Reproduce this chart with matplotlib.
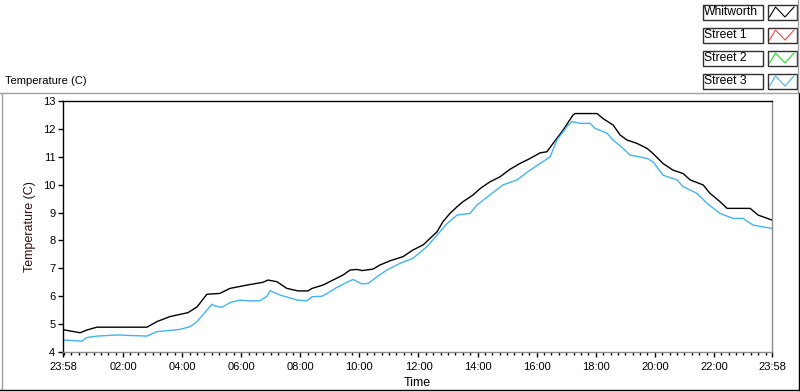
import matplotlib.pyplot as plt
from matplotlib.lines import Line2D
from matplotlib.patches import Rectangle
import numpy as np

plt.rcParams['font.family'] = ['Liberation Sans', 'DejaVu Sans']

# hours after 23:58 (start of record)
t_whit = [0.00, 0.58, 0.81, 1.15, 2.84, 3.18, 3.62, 4.23, 4.54, 4.87, 5.31, 5.65,
          6.23, 6.77, 6.94, 7.24, 7.58, 7.96, 8.29, 8.43, 8.80, 9.14, 9.48, 9.72,
          9.95, 10.12, 10.49, 10.73, 11.07, 11.51, 11.85, 12.19, 12.42, 12.66, 12.86,
          13.10, 13.34, 13.54, 13.88, 14.12, 14.45, 14.79, 15.13, 15.47, 15.81, 16.15,
          16.38, 16.59, 16.93, 17.26, 17.33, 18.08, 18.28, 18.62, 18.86, 19.09, 19.43,
          19.77, 19.97, 20.31, 20.65, 20.99, 21.23, 21.67, 21.90, 22.24, 22.48, 23.26,
          23.53, 24.00]
whitworth = [4.80, 4.69, 4.79, 4.89, 4.89, 5.09, 5.27, 5.41, 5.62, 6.07, 6.10, 6.28,
             6.40, 6.50, 6.58, 6.52, 6.28, 6.19, 6.19, 6.28, 6.40, 6.58, 6.76, 6.94,
             6.96, 6.92, 6.97, 7.12, 7.27, 7.42, 7.66, 7.84, 8.07, 8.31, 8.67,
             8.97, 9.21, 9.39, 9.63, 9.86, 10.10, 10.28, 10.55, 10.76, 10.94, 11.14,
             11.18, 11.48, 11.96, 12.49, 12.55, 12.55, 12.37, 12.14, 11.78, 11.60, 11.48,
             11.30, 11.12, 10.76, 10.52, 10.40, 10.17, 9.99, 9.69, 9.39, 9.15, 9.15,
             8.91, 8.73]

t_st3 = [0.00, 0.64, 0.81, 1.15, 1.83, 2.84, 3.18, 3.96, 4.30, 4.54, 4.87, 5.04,
         5.15, 5.38, 5.65, 5.99, 6.33, 6.67, 6.91, 7.01, 7.35, 7.75, 7.92, 8.26,
         8.43, 8.77, 8.94, 9.28, 9.65, 9.82, 10.12, 10.33, 10.63, 10.97, 11.41,
         11.85, 12.32, 12.66, 13.00, 13.34, 13.78, 14.01, 14.45, 14.89, 15.37, 15.81,
         16.15, 16.49, 16.72, 17.06, 17.23, 17.50, 17.84, 18.01, 18.42, 18.62, 18.96,
         19.20, 19.77, 19.97, 20.31, 20.79, 20.99, 21.46, 21.80, 22.24, 22.68, 23.02,
         23.36, 24.00]
street3 = [4.43, 4.39, 4.52, 4.57, 4.61, 4.57, 4.73, 4.81, 4.91, 5.09, 5.50, 5.71,
           5.65, 5.60, 5.77, 5.86, 5.83, 5.84, 6.00, 6.20, 6.04, 5.92, 5.86, 5.84,
           5.98, 6.00, 6.10, 6.32, 6.52, 6.60, 6.44, 6.46, 6.70, 6.94, 7.18,
           7.36, 7.78, 8.19, 8.61, 8.91, 8.97, 9.27, 9.63, 9.99, 10.17, 10.52,
           10.76, 11.00, 11.60, 12.08, 12.26, 12.20, 12.20, 12.02, 11.84, 11.60, 11.30,
           11.06, 10.94, 10.82, 10.34, 10.17, 9.93, 9.69, 9.33, 8.97, 8.79, 8.79,
           8.55, 8.43]

tick_hours = [0, 2 + 2/60, 4 + 2/60, 6 + 2/60, 8 + 2/60, 10 + 2/60, 12 + 2/60,
              14 + 2/60, 16 + 2/60, 18 + 2/60, 20 + 2/60, 22 + 2/60, 24]
tick_labels = ['23:58', '02:00', '04:00', '06:00', '08:00', '10:00', '12:00',
               '14:00', '16:00', '18:00', '20:00', '22:00', '23:58']

legend_names = ['Whitworth', 'Street 1', 'Street 2', 'Street 3']
legend_colors = ['#000000', '#ff4040', '#20e020', '#40b4f4']

W, H = 800, 392
fig = plt.figure(figsize=(W / 100, H / 100), dpi=100)

def fx(x):
    return x / W

def fy(y):
    return 1 - y / H

ax = fig.add_axes([fx(63), fy(352), (772 - 63) / W, (352 - 101) / H])
ax.plot(t_whit, whitworth, color=legend_colors[0], lw=1.0)
ax.plot(t_st3, street3, color=legend_colors[3], lw=1.0)

ax.set_xlim(0, 24)
ax.set_ylim(4, 13)
ax.set_yticks(range(4, 14))
ax.set_xticks(tick_hours)
ax.set_xticklabels(tick_labels)
ax.set_xticks(np.arange(2 / 60, 24, 0.25), minor=True)
ax.tick_params(axis='both', which='major', labelsize=8, direction='out', length=3.5, width=1, color='black', pad=2)
ax.tick_params(axis='x', which='major', pad=4)
ax.tick_params(axis='x', which='minor', direction='out', length=2, width=1, color='black')
ax.spines['left'].set_color('black')
ax.spines['top'].set_color('black')
ax.spines['right'].set_color('#8c8c8c')
ax.spines['bottom'].set_color('#8c8c8c')
for s in ax.spines.values():
    s.set_linewidth(1)
ax.set_xlabel('Time', fontsize=9, labelpad=3)
ax.set_ylabel('Temperature (C)', fontsize=9, color='#301010', labelpad=5)

# panel title and frame
fig.text(fx(5), fy(81), 'Temperature (C)', fontsize=8, va='center', ha='left')
fig.add_artist(Line2D([fx(0), fx(797)], [fy(92.5), fy(92.5)], color='#a0a0a0', lw=1))
fig.add_artist(Line2D([fx(1.5), fx(1.5)], [fy(92.5), fy(389)], color='#a0a0a0', lw=1))
fig.add_artist(Line2D([fx(0), fx(800)], [fy(389.5), fy(389.5)], color='black', lw=1))
fig.add_artist(Line2D([fx(798.5), fx(798.5)], [fy(92.5), fy(390)], color='black', lw=1))
fig.add_artist(Line2D([fx(797.5), fx(797.5)], [fy(0), fy(92.5)], color='#a0a0a0', lw=1))

# legend
row_tops = [4, 27, 50, 73]
for name, col, top in zip(legend_names, legend_colors, row_tops):
    fig.add_artist(Rectangle((fx(702.5), fy(top + 15.5)), 60 / W, 15 / H,
                             fill=False, edgecolor='#303030', lw=1))
    fig.text(fx(704), fy(top + 8), name, fontsize=8.7, va='center', ha='left')
    fig.add_artist(Rectangle((fx(767.5), fy(top + 15.5)), 29 / W, 15 / H,
                             fill=False, edgecolor='#303030', lw=1))
    zx = [769.5, 775.5, 785, 794]
    zy = [top + 13, top + 3, top + 13, top + 3]
    fig.add_artist(Line2D([fx(v) for v in zx], [fy(v) for v in zy], color=col, lw=0.8))

fig.savefig('out.png', dpi=100)
